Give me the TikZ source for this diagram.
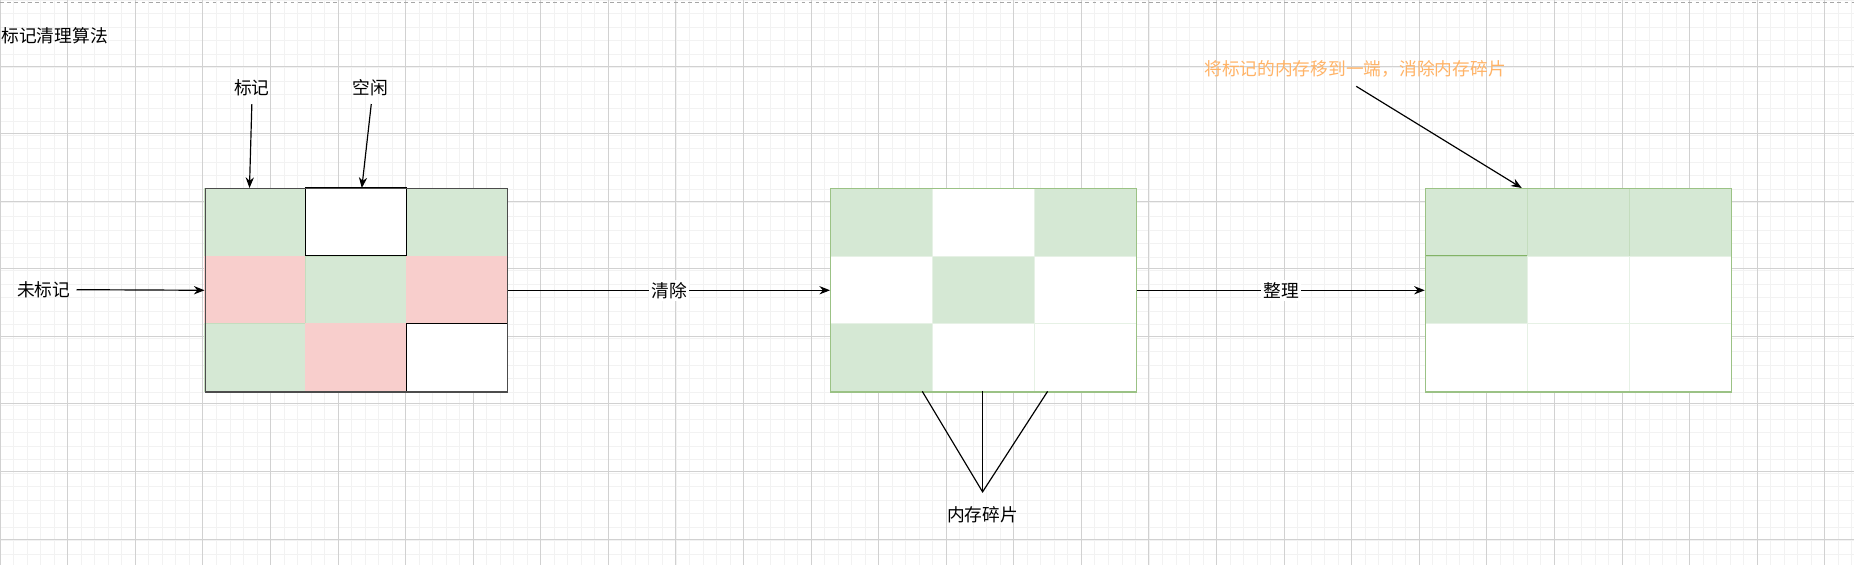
\documentclass[tikz,border=0pt]{standalone}
\usepackage{fontspec}
\setmainfont{Noto Sans CJK SC}
\usetikzlibrary{arrows.meta}
\definecolor{gfill}{HTML}{D5E8D4}
\definecolor{gline}{HTML}{82B366}
\definecolor{rfill}{HTML}{F8CECC}
\definecolor{orng}{HTML}{FFB366}
\tikzset{
 lbl/.style={font=\fontsize{15}{18}\selectfont, inner sep=1pt},
 arr/.style={draw=black, line width=1pt, -{Stealth[length=9pt,width=7pt]}},
 cellg/.style={fill=gfill, draw=gfill!80!gline},
 cellr/.style={fill=rfill, draw=rfill},
 cellw/.style={fill=white, draw=black, line width=1pt},
 cellwg/.style={fill=white, draw=gfill!60!white},
}
\begin{document}
\begin{tikzpicture}[x=1pt,y=-1pt]
\fill[white] (0,0) rectangle (1568,478);
\useasboundingbox (0,0) rectangle (1568,478);
% grid
\foreach \i in {0,...,137} \draw[black!5, line width=0.4pt] (\i*11.43,0) -- (\i*11.43,478);
\foreach \i in {0,...,42} \draw[black!5, line width=0.4pt] (0,\i*11.43) -- (1568,\i*11.43);
\foreach \i in {0,...,28} \draw[black!18, line width=0.5pt] (\i*57.15,0) -- (\i*57.15,478);
\foreach \i in {1,...,9} \draw[black!18, line width=0.5pt] (0,\i*57.15-1.5) -- (1568,\i*57.15-1.5);
\draw[black!35, dashed, line width=0.6pt] (0,2) -- (1568,2);
% title
\node[lbl, anchor=west] (title) at (0,30) {标记清理算法};
% block 1
\def\cw{85.33}\def\ch{57.33}
\foreach \c/\r/\s in {0/0/cellg,2/0/cellg,0/1/cellr,1/1/cellg,2/1/cellr,0/2/cellg,1/2/cellr}
  \path[\s] (173+\c*\cw,159+\r*\ch) rectangle ++(\cw,\ch);
\path[cellw] (173+\cw,159) rectangle ++(\cw,\ch);
\path[cellw] (173+2*\cw,159+2*\ch) rectangle ++(\cw,\ch);
\node[draw=black!70, line width=1pt, minimum width=256pt, minimum height=172pt, inner sep=0, anchor=north west] (b1) at (173,159) {};
\coordinate (m1) at (211,159);
\coordinate (f1) at (306,159);
% block 2
\def\ox{702}
\foreach \c/\r/\s in {0/0/cellg,2/0/cellg,1/1/cellg,0/2/cellg,1/0/cellwg,0/1/cellwg,2/1/cellwg,1/2/cellwg,2/2/cellwg}
  \path[\s] (\ox+\c*86.33,159+\r*\ch) rectangle ++(86.33,\ch);
\node[draw=gline!80!white, line width=1pt, minimum width=259pt, minimum height=172pt, inner sep=0, anchor=north west] (b2) at (702,159) {};
% block 3
\def\ox{1205}
\foreach \c/\r/\s in {0/0/cellg,1/0/cellg,2/0/cellg,0/1/cellg,1/1/cellwg,2/1/cellwg,0/2/cellwg,1/2/cellwg,2/2/cellwg}
  \path[\s] (\ox+\c*86.33,159+\r*\ch) rectangle ++(86.33,\ch);
\draw[gline, line width=0.8pt] (1205,216.3) -- (1291.3,216.3);
\node[draw=gline!80!white, line width=1pt, minimum width=259pt, minimum height=172pt, inner sep=0, anchor=north west] (b3) at (1205,159) {};
\coordinate (t3) at (1287,159);
% labels & arrows
\node[lbl] (unm) at (37,245) {未标记};
\draw[arr] (unm.east) ++(4,0) -- (b1.west);
\draw[arr] (b1.east) -- node[lbl, fill=white, inner sep=2pt] (clr) {清除} (b2.west);
\draw[arr] (b2.east) -- node[lbl, fill=white, inner sep=2pt] (cmp) {整理} (b3.west);
\node[lbl] (mk) at (213,74) {标记};
\node[lbl] (fr) at (313,74) {空闲};
\draw[arr] (213,88) -- (m1);
\draw[arr] (314,88) -- (f1);
\node[lbl, text=orng] (note) at (1146,58) {将标记的内存移到一端，消除内存碎片};
\draw[arr] (1147,73) -- (t3);
\node[lbl] (frag) at (831,435) {内存碎片};
\coordinate (fp) at (831,416);
\draw[black, line width=1pt] (780,331) -- (fp) -- (886,331);
\draw[black, line width=1pt] (831,331) -- (fp);
\end{tikzpicture}
\end{document}
